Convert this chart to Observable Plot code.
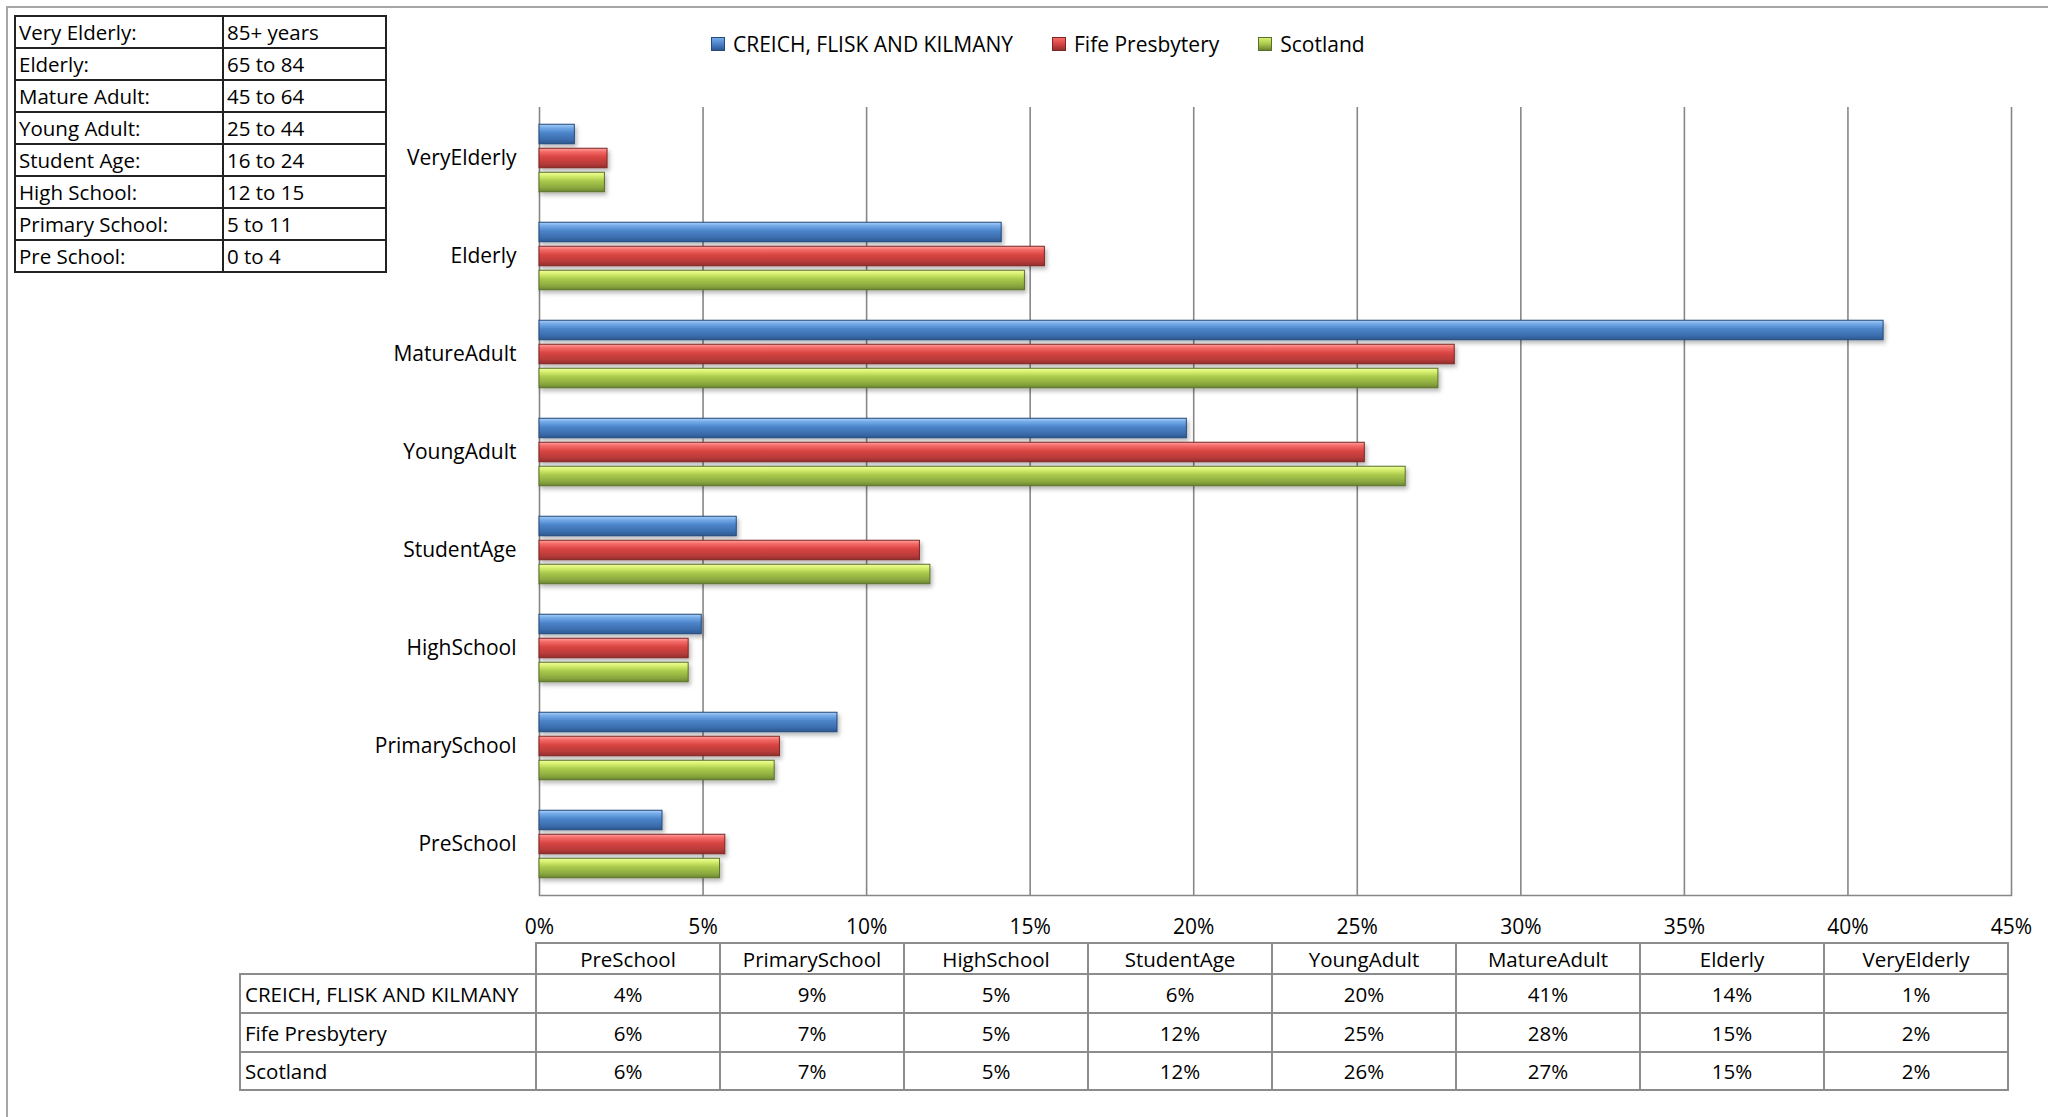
<!DOCTYPE html>
<html><head><meta charset="utf-8">
<script src="https://cdn.jsdelivr.net/npm/d3@7"></script>
<script src="https://cdn.jsdelivr.net/npm/@observablehq/plot@0.6"></script>
<style>
html,body{margin:0;padding:0;background:#fff;}
#wrap{position:relative;width:2048px;height:1117px;overflow:hidden;font-family:"Open Sans",Lato,sans-serif;color:#000;background:#fff;}
#border{position:absolute;left:6px;top:6px;width:2100px;height:1200px;border-left:2px solid #a6a6a6;border-top:2px solid #a6a6a6;}
#chart{position:absolute;left:0;top:0;}
#ages{position:absolute;left:14px;top:15px;border-collapse:collapse;font-size:20.5px;table-layout:fixed;}
#ages td{border:2px solid #222;height:30px;padding:0 0 0 3px;line-height:30px;white-space:nowrap;overflow:hidden;}
#legend{position:absolute;left:711px;top:30px;display:flex;align-items:center;font-size:21px;white-space:nowrap;}
#legend .item{display:flex;align-items:center;margin-right:39px;}
#legend .sw{width:12px;height:12px;margin-right:8px;}
#dt{position:absolute;left:239px;top:942px;border-collapse:collapse;font-size:20.5px;table-layout:fixed;}
#dt td{border:2px solid #8c8c8c;padding:0;white-space:nowrap;text-align:center;overflow:hidden;}
#dt td.lab{text-align:left;padding-left:4px;}
#dt td.blank{border:none;border-right:2px solid #8c8c8c;border-bottom:2px solid #8c8c8c;}
</style></head><body><div id="wrap"><div id="border"></div></div>
<script>
// ---- data ----
const categories = ["VeryElderly","Elderly","MatureAdult","YoungAdult","StudentAge","HighSchool","PrimarySchool","PreSchool"];
const seriesNames = ["CREICH, FLISK AND KILMANY","Fife Presbytery","Scotland"];
const creich   = [1.08, 14.13, 41.09, 19.79, 6.03, 4.96, 9.11, 3.76];
const fife     = [2.08, 15.45, 27.98, 25.23, 11.63, 4.56, 7.35, 5.68];
const scotland = [2.00, 14.84, 27.48, 26.48, 11.95, 4.56, 7.19, 5.52];
const xTicks = [0,5,10,15,20,25,30,35,40,45];
const tableCategories = ["PreSchool","PrimarySchool","HighSchool","StudentAge","YoungAdult","MatureAdult","Elderly","VeryElderly"];
const ageLabels = ["Very Elderly:","Elderly:","Mature Adult:","Young Adult:","Student Age:","High School:","Primary School:","Pre School:"];
const ageRanges = ["85+ years","65 to 84","45 to 64","25 to 44","16 to 24","12 to 15","5 to 11","0 to 4"];

// ---- styles ----
const grads = [
  ["#a9d0f8","#74aae8","#4b83c9","#3b6cab","#2d5891"],
  ["#ffa3a1","#f46a67","#d84542","#b63b39","#922f2d"],
  ["#f2ffa0","#d8ef70","#a9c94b","#8aa83f","#6b8431"]
];
const edge = ["#24497a","#7d2523","#5a6f2a"];

const valuesBySeries = [creich, fife, scotland];
const rows = seriesNames.flatMap((s, k) => categories.map((c, i) => ({series: s, k, category: c, value: valuesBySeries[k][i]})));

const wrap = document.getElementById("wrap");
const font = '"Open Sans", Lato, sans-serif';

const defs = () => {
  const d = d3.create("svg:defs");
  grads.forEach((stops, k) => {
    const g = d.append("linearGradient").attr("id", "g" + k).attr("x1", 0).attr("y1", 0).attr("x2", 0).attr("y2", 1);
    [0, 0.18, 0.45, 0.8, 1].forEach((o, j) => g.append("stop").attr("offset", o).attr("stop-color", stops[j]));
  });
  const f = d.append("filter").attr("id", "sh").attr("x", "-5%").attr("y", "-50%").attr("width", "115%").attr("height", "250%");
  f.append("feDropShadow").attr("dx", 2).attr("dy", 3).attr("stdDeviation", 2).attr("flood-color", "#000").attr("flood-opacity", 0.28);
  return d.node();
};

const band = (895 - 107) / categories.length;
const barH = 20, step = 24;
const inset = (band - barH) / 2;

const chart = Plot.plot({
  width: 2048, height: 1117,
  marginLeft: 539, marginRight: 37, marginTop: 107, marginBottom: 222,
  style: {fontFamily: font, fontSize: "21px", color: "#000", background: "transparent", overflow: "visible"},
  x: {domain: [0, 45], label: null},
  y: {domain: categories, padding: 0, label: null},
  marks: [
    defs,
    Plot.ruleX(xTicks, {stroke: "#878787", strokeWidth: 1.6}),
    Plot.frame({anchor: "bottom", stroke: "#878787", strokeWidth: 1.6}),
    ...seriesNames.map((s, k) => Plot.barX(rows.filter(r => r.k === k), {
      x: "value", y: "category", fill: `url(#g${k})`, stroke: edge[k], strokeWidth: 1,
      insetTop: inset, insetBottom: inset, dy: (k - 1) * step
    })),
    Plot.axisX({ticks: xTicks, tickSize: 0, tickPadding: 24, tickFormat: d => d + "%", fontSize: 21, label: null}),
    Plot.axisY({tickSize: 0, tickPadding: 23, fontSize: 21, label: null})
  ]
});
chart.id = "chart";
wrap.appendChild(chart);
d3.select(chart).selectAll('g[aria-label="bar"]').attr("filter", "url(#sh)");

// ---- legend ----
const legend = d3.select(wrap).append("div").attr("id", "legend");
seriesNames.forEach((s, k) => {
  const it = legend.append("div").attr("class", "item");
  it.append("div").attr("class", "sw").style("background", `linear-gradient(${grads[k][1]}, ${grads[k][2]} 50%, ${grads[k][4]})`).style("border", `1px solid ${edge[k]}`);
  it.append("span").text(s);
});

// ---- age definitions table ----
const ages = d3.select(wrap).append("table").attr("id", "ages");
ageLabels.forEach((l, i) => {
  const tr = ages.append("tr");
  tr.append("td").style("width", "203px").text(l);
  tr.append("td").style("width", "158px").text(ageRanges[i]);
});

// ---- data table ----
const dt = d3.select(wrap).append("table").attr("id", "dt");
const colW = (2011 - 539) / tableCategories.length;
const rowH = [32, 39, 39, 38];
const hr = dt.append("tr");
hr.append("td").attr("class", "blank").style("width", "295px").style("height", (rowH[0] - 2) + "px");
tableCategories.forEach(c => hr.append("td").style("width", (colW - 2) + "px").text(c));
seriesNames.forEach((s, k) => {
  const tr = dt.append("tr");
  tr.append("td").attr("class", "lab").style("height", (rowH[k + 1] - 2) + "px").text(s);
  tableCategories.forEach(c => {
    const i = categories.indexOf(c);
    tr.append("td").text(Math.round(valuesBySeries[k][i]) + "%");
  });
});
</script></body></html>
